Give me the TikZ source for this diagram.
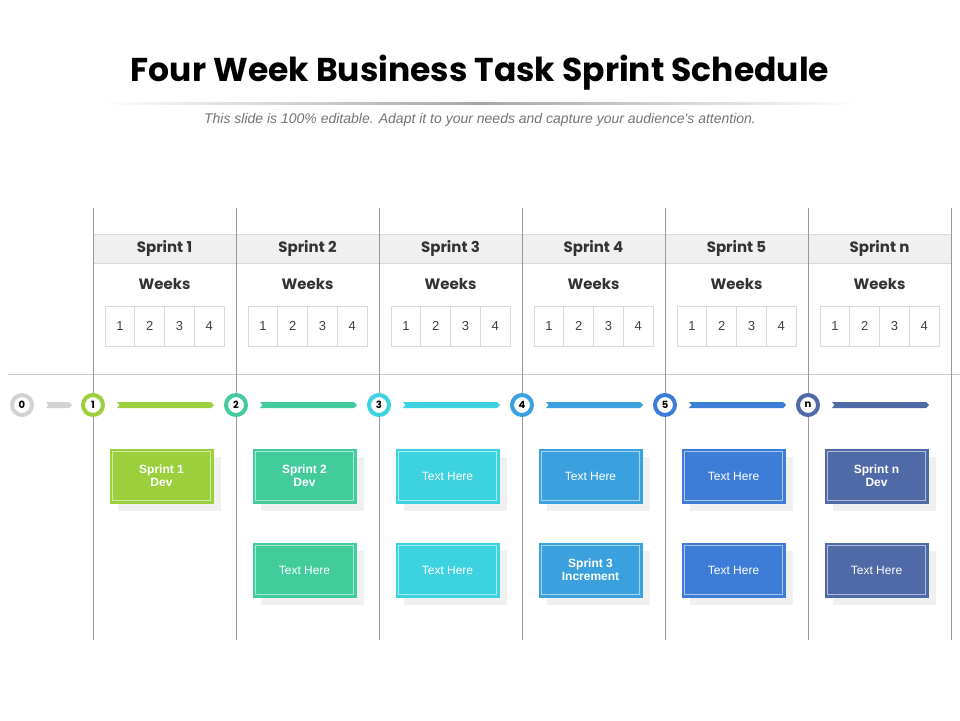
\documentclass[tikz,border=0pt]{standalone}
\usepackage{fontspec}
\setmainfont{Poppins}
\newfontfamily\arialf{Liberation Sans}
\begin{document}
\begin{tikzpicture}[x=1pt,y=-1pt,
  grid/.style={draw=black!40,line width=0.8pt},
  wk/.style={draw=black!15,line width=0.6pt,minimum width=29.75pt,minimum height=40pt,inner sep=0pt,font=\arialf\fontsize{13}{13}\selectfont,text=black!75},
  ring/.style={circle,draw=#1,line width=4pt,fill=white,minimum size=20pt,inner sep=0pt,font=\bfseries\fontsize{10}{10}\selectfont},
  box/.style={minimum width=103pt,minimum height=54pt,inner sep=0pt,fill=#1,draw=#1,text=white,align=center,
    font=\arialf\fontsize{12}{13}\selectfont}]
\useasboundingbox (0,0) rectangle (960,720);
\definecolor{c1}{HTML}{9BCF3C}\definecolor{c2}{HTML}{42CC9B}\definecolor{c3}{HTML}{3DD2E0}
\definecolor{c4}{HTML}{3BA0DE}\definecolor{c5}{HTML}{3D7DD8}\definecolor{c6}{HTML}{4F6AA6}
\definecolor{c0}{HTML}{D2D2D2}
\node[font=\bfseries\fontsize{33}{33}\selectfont] (title) at (480,73) {Four Week Business Task Sprint Schedule};
\shade[left color=white,right color=white,middle color=black!35] (100,102) rectangle (860,104);
\node[font=\arialf\itshape\fontsize{14}{14}\selectfont,text=black!55] (sub) at (480,120) {This slide is 100\% editable. Adapt it to your needs and capture your audience's attention.};
\fill[black!6] (93,234) rectangle (951,263);
\draw[black!15] (93,234) -- (951,234) (93,263) -- (951,263);
\draw[black!20,line width=0.8pt] (8,374) -- (960,374);
\foreach \i/\lab in {0/Sprint 1,1/Sprint 2,2/Sprint 3,3/Sprint 4,4/Sprint 5,5/Sprint n}{
  \pgfmathsetmacro\xx{93+143*\i}
  \draw[grid] (\xx,208) -- (\xx,640);
  \node[font=\bfseries\fontsize{15}{15}\selectfont,text=black!80] (h\i) at (\xx+71.5,248) {\lab};
  \node[font=\bfseries\fontsize{15}{15}\selectfont,text=black!80] (w\i) at (\xx+71.5,284) {Weeks};
  \foreach \k in {1,...,4}{
    \node[wk] (t\i\k) at ({\xx+12+29.75*(\k-0.5)},326) {\k};
  }
}
\draw[grid] (951,208) -- (951,640);
% timeline
\node[ring=c0] (r0) at (22,405) {0};
\foreach \i/\lab/\c in {1/1/c1,2/2/c2,3/3/c3,4/4/c4,5/5/c5,6/n/c6}{
  \node[ring=\c] (r\i) at ({93+143*(\i-1)},405) {\lab};
  \pgfmathsetmacro\xa{93+143*(\i-1)+24}
  \pgfmathsetmacro\xb{\xa+94}
  \fill[\c] (\xa,402) -- (\xb,402) -- (\xb+3,405) -- (\xb,408) -- (\xa,408) -- (\xa+2.5,405) -- cycle;
}
\fill[c0] (46,402) -- (69,402) -- (72,405) -- (69,408) -- (46,408) -- (48.5,405) -- cycle;
% boxes
\newcommand\mybox[5]{% name, x, y, color, text
  \fill[black!6] (#2-51.5+8,#3-27+8) rectangle (#2+51.5+8,#3+27+8);
  \node[box=#4] (#1) at (#2,#3) {#5};
  \draw[white!55!#4,line width=1.2pt] ([xshift=3pt,yshift=-3pt]#1.north west) rectangle ([xshift=-3pt,yshift=3pt]#1.south east);
}
\mybox{b11}{161.5}{476}{c1}{\bfseries Sprint 1\\\bfseries Dev}
\mybox{b21}{304.5}{476}{c2}{\bfseries Sprint 2\\\bfseries Dev}
\mybox{b31}{447.5}{476}{c3}{Text Here}
\mybox{b41}{590.5}{476}{c4}{Text Here}
\mybox{b51}{733.5}{476}{c5}{Text Here}
\mybox{b61}{876.5}{476}{c6}{\bfseries Sprint n\\\bfseries Dev}
\mybox{b22}{304.5}{570}{c2}{Text Here}
\mybox{b32}{447.5}{570}{c3}{Text Here}
\mybox{b42}{590.5}{570}{c4}{\bfseries Sprint 3\\\bfseries Increment}
\mybox{b52}{733.5}{570}{c5}{Text Here}
\mybox{b62}{876.5}{570}{c6}{Text Here}
\end{tikzpicture}
\end{document}
